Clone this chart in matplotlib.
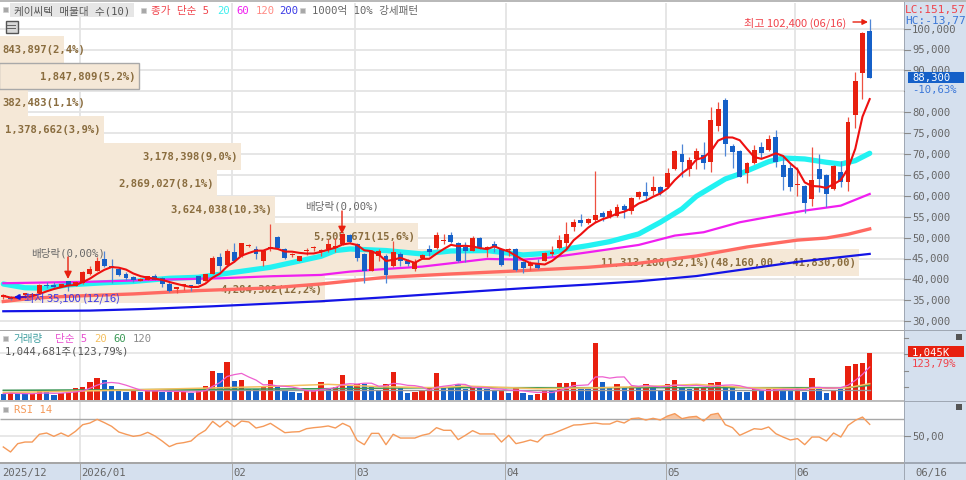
import numpy as np, pandas as pd
import matplotlib
matplotlib.use('Agg')
import matplotlib.pyplot as plt
from matplotlib.patches import Rectangle

FONT = ['DejaVu Sans Mono', 'Noto Sans CJK KR']
plt.rcParams['font.family'] = FONT

# ---------- data ----------
opens = [35900,35900,35900,36200,36200,36800,38700,38700,38200,39500,38500,39100,41400,42100,45000,43300,42500,41200,40500,39700,
 39950,40900,40250,38900,37800,38500,38400,40750,39700,41300,45300,43500,46500,45500,48000,47300,44500,47500,50050,47300,
 45850,44500,46800,47450,46800,47300,47500,48480,50710,48480,46090,42100,45690,45690,43300,46090,44500,42500,45050,47280,
 47440,49200,50630,48720,47840,46890,49830,47280,48480,47280,47000,47280,44100,43140,43700,44500,46010,47440,48720,52460,
 54220,53500,54300,55890,54850,55250,57490,56450,59640,60840,61240,62040,62040,66420,70010,66420,68810,69770,68170,76780,
 83000,72000,70650,65390,67780,71760,71040,74000,67460,66660,62600,62280,59250,66420,64990,61640,65630,63390,79340,89390,99500]
closes = [36050,35250,35500,36700,36400,38700,38400,38300,38900,38400,39300,41850,42500,44500,43300,42650,41050,40250,39850,40100,
 40750,39950,38800,37300,37900,38550,38350,38900,41300,45050,43300,46900,44500,48700,48200,46100,46900,47800,47450,45050,
 45950,45500,46950,47600,47000,48480,47900,50870,48880,45050,42100,46890,46890,41070,46490,44500,43700,44100,45850,46490,
 50630,49300,49040,44330,46890,49830,47440,47680,47680,43460,47150,42260,42740,43860,42660,46330,46490,49510,50870,53660,
 53420,54450,55490,55010,56450,57400,56690,59400,60830,59890,62040,60680,65470,70650,68020,68570,70650,67860,78140,80770,
 72400,70570,64590,67780,71040,70250,73600,68170,64590,62200,62800,58290,63870,64030,60440,67220,63390,77580,87550,98870,88300]
highs = [36500,36000,36400,36800,36700,38800,39300,39400,39000,39700,39500,41900,43100,45300,46900,44900,42650,41700,40900,40300,
 40900,41300,40500,39300,38100,38900,38500,40900,41400,45500,46300,47300,48700,48800,48500,47900,47000,53300,50500,47400,
 46300,45700,47400,48100,47300,49670,50000,51000,50900,48600,46300,47100,47280,46000,49270,46490,44900,44900,46100,48240,
 51430,50870,51430,48900,48880,50300,50070,48080,49270,47400,47440,47500,44500,44500,44900,46500,47920,50630,53660,54450,
 55650,54700,66000,56450,56850,58040,58040,59800,61230,63240,64670,62440,66580,70900,72400,69210,71360,72960,81170,82360,
 83320,72400,70900,68000,72160,72800,74550,75830,69450,67620,66820,62500,71600,70010,65200,67400,68410,78780,89700,99270,102400]
lows = [35300,35100,35300,36000,35700,36700,37900,37900,38100,37300,38400,39000,41000,42000,42900,39150,40750,39950,39450,39500,
 39800,39800,38100,37100,36750,37550,37300,38800,39500,41200,42000,43000,44200,45400,47700,45000,43300,46900,47300,44900,
 45300,44300,45800,46800,45700,46490,46600,48300,48600,44500,39070,42000,44500,39070,43000,43300,43140,42100,44800,45690,
 47300,48480,48720,44200,44100,46700,47200,45290,46490,43300,45530,42100,41540,42260,42500,44300,45530,47300,47440,51670,
 52700,53300,53660,54060,54600,54850,54610,55650,59240,58850,60200,60200,61800,66200,64430,64670,66420,66420,65630,75590,
 69610,66660,64400,63070,67600,68970,70800,66980,61480,61240,59890,55900,57500,60900,57260,61400,62040,61240,76160,83170,88100]

volumes = [140,162,132,132,125,200,177,103,147,200,258,294,397,493,442,309,213,177,221,177,
 213,213,177,177,177,177,162,213,309,648,589,839,420,442,250,250,309,442,294,213,
 177,147,213,213,405,250,294,545,309,361,346,294,213,361,626,272,147,177,213,272,
 589,272,272,346,235,272,272,235,213,213,162,258,162,110,132,213,199,383,383,405,
 250,250,1251,405,258,361,272,309,309,346,287,213,361,442,294,250,272,272,383,405,
 309,294,184,177,250,199,250,250,235,235,235,184,493,250,162,228,235,751,788,824,1045]
vol_colour = ("BRBBRRBBRR" "RRRRBBBBRB" "RRBBRRBRRR" "BRBRBBRRBB" "BBRRRBRRBR"
              "BBBRRBBRRR" "RBBBBRBBBR" "BRBBRRBRRR" "BBRBBRBRBR" "BBRRBBRRRR"
              "BBBBRBRRBB" "RBRBBRBRRRR")

rsi = [37.1,31.2,41.0,42.9,42.9,52.0,53.5,49.6,53.5,49.6,55.5,63.3,65.3,69.6,65.7,61.4,54.7,52.0,49.6,50.8,
 54.3,50.0,44.1,37.5,41.0,42.2,44.1,51.6,56.7,67.2,60.6,67.6,61.0,67.6,66.5,59.4,61.4,64.9,59.4,53.9,
 54.7,55.1,58.6,59.8,60.6,61.8,59.4,64.9,61.0,44.9,39.8,53.1,53.1,39.8,52.0,47.6,47.6,47.6,50.8,52.7,
 59.8,56.7,56.7,45.7,50.8,56.3,52.4,52.4,52.4,42.9,50.8,41.0,42.9,45.3,42.9,50.8,52.4,55.9,59.4,62.9,
 63.3,64.5,65.3,64.1,64.1,67.6,65.3,70.4,71.2,68.8,70.8,68.8,73.5,76.3,70.4,72.3,73.1,67.6,75.1,76.7,
 63.3,59.8,50.8,54.7,58.6,57.8,60.6,52.7,48.8,45.3,46.9,39.8,48.8,48.8,44.1,53.5,48.8,62.5,68.4,72.3,63.7]

ma20_i = [0,3,6,9,14,18,23,27,32,37,44,46,48,53,58,62,67,72,76,78,81,84,88,91,94,96,100,102,106,108,111,114,116,118,120]
ma20_v = [38900,38000,37900,38700,39200,39500,40270,40500,41700,42900,45530,46900,47280,46900,46090,46800,46900,45850,46330,47280,48080,49040,50870,53670,56860,59890,64030,65230,68170,69050,68810,68020,67600,68410,70170]
ma60_i = [0,13,23,30,37,44,48,53,58,62,67,72,76,81,88,93,97,102,107,111,116,120]
ma60_v = [39080,39470,40000,40270,40750,41070,41860,42500,43060,43860,44890,44730,45290,46490,48240,50480,51280,53670,55260,56460,57650,60440]
ma120_i = [0,4,9,18,27,37,44,53,62,72,81,88,96,103,110,114,117,120]
ma120_v = [34700,35490,35960,36520,37320,37960,38910,40510,41300,42100,42900,43860,45600,47750,49400,49900,50800,52080]
ma200_i = [0,12,20,29,36,44,53,62,72,81,88,96,103,110,120]
ma200_v = [32380,32540,32940,33570,34130,34770,35730,36760,37880,38760,39550,40800,42500,44200,46100]

vma20_i = [0,15,36,45,52,60,64,74,83,91,96,103,110,117,120]
vma20_v = [162,213,294,346,294,272,309,250,272,309,346,272,250,272,361]
vma60_i = [0,45,60,91,117,120]
vma60_v = [213,250,272,272,272,324]
vma120_i = [0,60,120]
vma120_v = [213,213,213]

price_ticks = [100000,95000,90000,85000,80000,75000,70000,65000,60000,55000,50000,45000,40000,35000,30000]
month_labels = ['2025/12','2026/01','02','03','04','05','06']
month_px = [2,80,232,355,505.5,666,795]

# rows of volume-profile boxes: text, right edge px, text centre y px
profile_text = ['843,897(2,4%)','1,847,809(5,2%)','382,483(1,1%)','1,378,662(3,9%)','3,178,398(9,0%)',
                '2,869,027(8,1%)','3,624,038(10,3%)','5,505,671(15,6%)',
                '11,313,180(32,1%)(48,160,00 ~ 41,830,00)','4,284,302(12,2%)']
profile_right = [64,139,28,104,241,217,275,418,859,325]
profile_y = [50,77,103,130,157,184,210,237,263,290]

# ---------- layout ----------
W, H = 966, 481
fig = plt.figure(figsize=(W/100, H/100), dpi=100, facecolor='white')
def axes_px(x0, y0, x1, y1, **kw):
    return fig.add_axes([x0/W, 1-y1/H, (x1-x0)/W, (y1-y0)/H], **kw)

X0, DX = 3.3, 7.22
def i_of(px): return (px-X0)/DX
xlim = (i_of(0), i_of(904))
n = len(closes)
idx = np.arange(n)

px = fig.add_axes([0,0,1,1], zorder=10, facecolor='none')
px.set_xlim(0,W); px.set_ylim(H,0); px.axis('off')
T = px.transData

def y_price(p): return 155-(p-70000)/5000*20.9
ax = axes_px(0,4,904,331)
ax.set_xlim(*xlim)
ax.set_ylim(70000-(331-155)/20.9*5000, 70000+(155-4)/20.9*5000)
vax = axes_px(0,332,904,401)
vax.set_xlim(*xlim); vax.set_ylim(0,69*22.08)
rax = axes_px(0,403,904,463)
rax.set_xlim(*xlim); rax.set_ylim(50-(463-437)/0.85, 50+(437-403)/0.85)
for a in (ax,vax,rax):
    a.axis('off')

GRID='#E4E4E4'
ax.hlines(price_ticks, *xlim, color=GRID, lw=1.3, zorder=0.5)
month_x = [i_of(p) for p in month_px[1:]]
for a in (ax,vax,rax):
    a.vlines(month_x, *a.get_ylim(), color=GRID, lw=1.3, zorder=0.5)
vax.hlines([1045], *xlim, color=GRID, lw=1.2, zorder=0.5)
rax.hlines([50], *xlim, color=GRID, lw=1.2, zorder=0.5)
rax.hlines([70], *xlim, color='#A8A8A8', lw=1.0, zorder=0.6)

# volume profile boxes
TAN='#F5E8D7'; BROWN='#8A6D3F'
for s,r,y in zip(profile_text, profile_right, profile_y):
    ax.add_patch(Rectangle((0,y-13.5), r, 27, transform=T, fc=TAN, ec='none', zorder=1))
    if r < 70:
        ax.text(2, y, s, transform=T, color=BROWN, fontsize=7.6, va='center', ha='left', zorder=1.5, weight='bold', clip_on=False)
    else:
        ax.text(r-3, y, s, transform=T, color=BROWN, fontsize=7.6, va='center', ha='right', zorder=1.5, weight='bold', clip_on=False)
ax.add_patch(Rectangle((-1,64), 140, 26, transform=T, fc='none', ec='#A9A9A9', lw=1.0, zorder=1.4))

# moving averages
ax.plot(ma20_i, ma20_v, color='#22F2F2', lw=3.8, zorder=2, solid_capstyle='round')
ax.plot(ma120_i, ma120_v, color='#FF6A62', lw=2.4, zorder=2.1)
ax.plot(ma60_i, ma60_v, color='#F01EF0', lw=1.6, zorder=2.2)
ax.plot(ma200_i, ma200_v, color='#1414E6', lw=1.6, zorder=2.2)

# candles
RED='#E8200F'; BLUE='#1560C8'
o=np.array(opens); c=np.array(closes); h=np.array(highs); l=np.array(lows)
cols=[RED if cc>=oo else BLUE for oo,cc in zip(o,c)]
wick=[ '#EE5040' if cc>=oo else '#4F86D6' for oo,cc in zip(o,c)]
ax.vlines(idx, l, h, colors=wick, lw=0.9, zorder=3)
ax.bar(idx, np.maximum(np.abs(c-o),300), bottom=np.minimum(o,c), width=0.68, color=cols, lw=0, zorder=3.1)
ma5 = pd.Series(closes,dtype=float).rolling(5,min_periods=1).mean()
ax.plot(idx, ma5, color='#EE1010', lw=1.5, zorder=4)

# annotations on main panel
def label(x,y,s,color='#666666',size=7.6,ha='left',weight='normal',z=6,family=None):
    px.text(x,y,s,transform=T,color=color,fontsize=size,ha=ha,va='center',weight=weight,zorder=z,clip_on=False,family=family or FONT)
label(31,253,'배당락(0,00%)')
label(305,206,'배당락(0,00%)')
for xa,y0,y1 in [(68,258,280),(342,212,235)]:
    px.annotate('',xy=(xa,y1),xytext=(xa,y0),xycoords='data',arrowprops=dict(arrowstyle='-|>',color=RED,lw=1,mutation_scale=11,shrinkA=0,shrinkB=0),zorder=6)
label(744,23,'최고 102,400 (06/16)',color='#F0444C',size=8,family='Noto Sans CJK KR')
px.annotate('',xy=(868,23),xytext=(853,23),arrowprops=dict(arrowstyle='-|>',color=RED,lw=1,mutation_scale=8,shrinkA=0,shrinkB=0),zorder=6)
label(24,298,'최저 35,100 (12/16)',color='#3A3AE6',size=8,family='Noto Sans CJK KR')
px.annotate('',xy=(14,298),xytext=(26,298),arrowprops=dict(arrowstyle='-|>',color='#1414E6',lw=1,mutation_scale=8,shrinkA=0,shrinkB=0),zorder=6)

# volume
vcol=[RED if f=='R' else BLUE for f in vol_colour]
vax.bar(idx, volumes, width=0.74, color=vcol, lw=0, zorder=2)
vma5 = pd.Series(volumes,dtype=float).rolling(5,min_periods=1).mean()
vax.plot(vma120_i, vma120_v, color='#9A9A9A', lw=1.0, zorder=3)
vax.plot(vma60_i, vma60_v, color='#3B9A57', lw=1.1, zorder=3.1)
vax.plot(vma20_i, vma20_v, color='#F4C060', lw=1.1, zorder=3.2)
vax.plot(idx, vma5, color='#EE60D0', lw=0.9, zorder=3.3)

# RSI
rsi_a=np.array(rsi,dtype=float)
rax.fill_between(idx, 70, rsi_a, where=rsi_a>=70, interpolate=True, color='#F6C6A4', lw=0, zorder=1)
rax.plot(idx, rsi_a, color='#F59A5A', lw=1.0, zorder=2)

# frame pieces
PANEL='#D5E0EE'; LINE='#A6A6A6'
def rect(x0,y0,x1,y1,fc,z=1,ec='none',lw=0):
    px.add_patch(Rectangle((x0,y0),x1-x0,y1-y0,fc=fc,ec=ec,lw=lw,zorder=z,clip_on=False))
rect(0,0,966,3,'#B9B9B9')
rect(904,3,966,481,PANEL)
rect(0,464,904,481,PANEL)
rect(0,331,904,332,LINE)
rect(0,401,904,403,'#BDBDBD')
rect(0,463,904,465,LINE)
rect(904,3,905,481,'#A0A8B4',z=1.2)
rect(904,331,966,332,'#A0A8B4',z=1.2)
rect(904,402,966,403,'#A0A8B4',z=1.2)
rect(904,463,966,465,'#A0A8B4',z=1.2)

# price axis
for p in price_ticks:
    y=y_price(p)
    px.plot([904,910],[y,y],color='#8A8A8A',lw=0.8,zorder=2)
    label(912,y,f'{p:,}',color='#666666',z=2)
rect(905,3.5,966,26,PANEL,z=3)
label(905,10,'LC:151,57',color='#F0444C',z=4,size=8)
label(905,21,'HC:-13,77',color='#3C78D8',z=4,size=8)
rect(905,84,966,97,PANEL,z=3)
rect(908,72.5,964,84,'#1560C8',z=3.5)
label(912,78,'88,300',color='white',z=4)
label(912,90,'-10,63%',color='#3C78D8',z=4)

# volume/RSI axis
for y in [339,355,372,388]:
    px.plot([904,908],[y,y],color='#8A8A8A',lw=0.8,zorder=2)
rect(908,347,964,358,'#E8200F',z=3.5)
label(912,353,'1,045K',color='white',z=4)
label(912,364,'123,79%',color='#F0444C',z=4)
px.plot([904,910],[437,437],color='#8A8A8A',lw=0.8,zorder=2)
label(912,437,'50,00',color='#666666',z=4)
for y in [338,408]:
    rect(956,y-3,962,y+3,'#555555',z=4)

# bottom axis
for s,xp in zip(month_labels,month_px):
    label(xp+(0 if xp==2 else 1),473,s,color='#666666',z=4)
    if xp>2:
        rect(xp-0.5,464,xp+0.5,481,'#A8A8A8',z=1.5)
label(915,473,'06/16',color='#666666',z=4)

# headers
def square(x,y):
    rect(x-2.5,y-2.5,x+2.5,y+2.5,'#A8A8A8',z=5,ec='#D0D0D0',lw=0.5)
square(5,10.5)
rect(10,4,134,18,'#E6E6E6',z=4)
label(14,11,'케이씨텍 매물대 수(10)',color='#555555',z=6)
square(143,11)
label(151,11,'종가 단순 5',color='#F0444C',z=6)
label(217,11,'20',color='#3FEFEF',z=6)
label(236,11,'60',color='#F01EF0',z=6)
label(256,11,'120',color='#FF8A84',z=6)
label(279,11,'200',color='#3A3AE6',z=6)
square(302,11)
label(312,11,'1000억 10% 강세패턴',color='#666666',z=6)
rect(5.5,22,17.5,34,'#D8D8D8',z=5,ec='#555555',lw=1)
for xv in [9,12,15]:
    rect(xv-0.5,24,xv,32,'#666666',z=5.5)
for yv in [26,29]:
    rect(7,yv,16,yv+0.5,'#666666',z=5.5)

square(5,339)
label(14,339,'거래량',color='#3E9EA0',z=6)
label(55,339,'단순 5',color='#E850D0',z=6)
label(94,339,'20',color='#F4C060',z=6)
label(113,339,'60',color='#3B9A57',z=6)
label(133,339,'120',color='#8A8A8A',z=6)
label(5,352,'1,044,681주(123,79%)',color='#555555',z=6)
square(5,410)
label(14,410,'RSI 14',color='#F59A5A',z=6)

fig.savefig('out.png',dpi=100,facecolor='white')
